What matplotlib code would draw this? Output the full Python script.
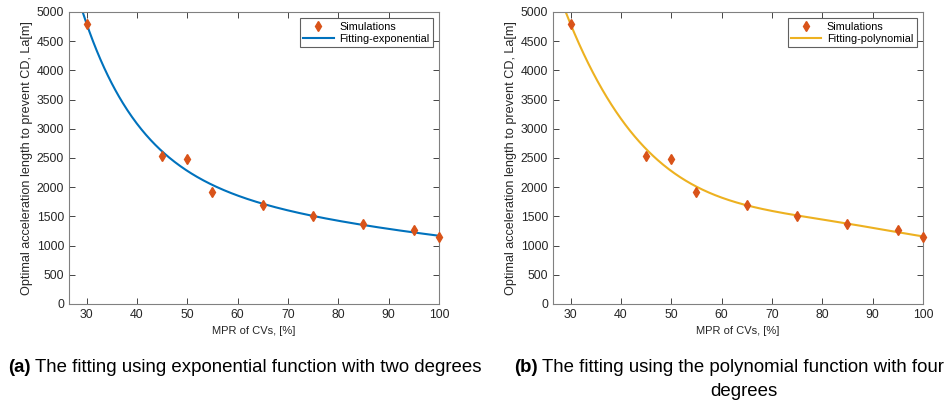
import numpy as np
import matplotlib
matplotlib.use("Agg")
import matplotlib.pyplot as plt

plt.rcParams['font.family'] = ['Liberation Sans', 'DejaVu Sans']

# simulation results
mpr = np.array([30, 45, 50, 55, 65, 75, 85, 95, 100])
la = np.array([4800, 2530, 2480, 1920, 1700, 1500, 1370, 1260, 1140])

x_ticks = [30, 40, 50, 60, 70, 80, 90, 100]
y_ticks = list(range(0, 5001, 500))

sim_color = "#D95319"
exp_color = "#0072BD"
poly_color = "#EDB120"
axis_color = "#262626"

xs = np.linspace(26.5, 100, 400)


# two-term exponential fit a*exp(b*x) + c*exp(d*x), fitted to the points
def exp2_fit(x, y):
    best = None
    for b in np.linspace(-0.25, -0.005, 120):
        for d in np.linspace(-0.03, 0.0, 61):
            if abs(b - d) < 1e-6:
                continue
            A = np.column_stack([np.exp(b * x), np.exp(d * x)])
            coef, res, *_ = np.linalg.lstsq(A, y, rcond=None)
            err = np.sum((A @ coef - y) ** 2)
            if best is None or err < best[0]:
                best = (err, coef[0], b, coef[1], d)
    _, a, b, c, d = best
    return lambda t: a * np.exp(b * t) + c * np.exp(d * t)


f_exp = exp2_fit(mpr, la)
p4 = np.polyfit(mpr, la, 4)

fig = plt.figure(figsize=(9.47, 4.03), dpi=100)
W, H = 947, 403
ax1 = fig.add_axes([69 / W, 1 - 304 / H, 370 / W, 292 / H])
ax2 = fig.add_axes([553 / W, 1 - 304 / H, 370 / W, 292 / H])

for ax, yfit, col, lab in [(ax1, f_exp(xs), exp_color, "Fitting-exponential"),
                           (ax2, np.polyval(p4, xs), poly_color, "Fitting-polynomial")]:
    ax.plot(mpr, la, "d", color=sim_color, markersize=5, label="Simulations",
            clip_on=False, zorder=3)
    ax.plot(xs, yfit, color=col, linewidth=1.5, label=lab)
    ax.set_xlim(26.5, 100)
    ax.set_ylim(0, 5000)
    ax.set_xticks(x_ticks)
    ax.set_yticks(y_ticks)
    ax.tick_params(direction="in", top=True, right=True, labelsize=8.8,
                   colors=axis_color, length=4, width=0.6)
    for s in ax.spines.values():
        s.set_color("#808080")
        s.set_linewidth(0.8)
    ax.set_xlabel("MPR of CVs, [%]", fontsize=8, color=axis_color)
    ax.set_ylabel("Optimal acceleration length to prevent CD, La[m]",
                  fontsize=9.1, color=axis_color, labelpad=3)
    leg = ax.legend(loc="upper right", fontsize=7.8, fancybox=False,
                    framealpha=1, edgecolor="#606060", borderaxespad=0.6,
                    handlelength=2.8, handletextpad=0.5, borderpad=0.3,
                    labelspacing=0.2)
    leg.get_frame().set_linewidth(0.8)

fig.canvas.draw()
renderer = fig.canvas.get_renderer()
cap_size = 13.4


def caption(x, y, tag, rest):
    t = fig.text(x / W, 1 - y / H, tag, fontsize=cap_size, fontweight="bold",
                 va="center", ha="left")
    bb = t.get_window_extent(renderer=renderer)
    fig.text((bb.x1 + 4) / W, 1 - y / H, rest, fontsize=cap_size,
             va="center", ha="left")


caption(8, 368, "(a)", "The fitting using exponential function with two degrees")
caption(514, 368, "(b)", "The fitting using the polynomial function with four")
fig.text(744 / W, 1 - 391 / H, "degrees", fontsize=cap_size,
         va="center", ha="center")

fig.savefig("out.png", dpi=100)
